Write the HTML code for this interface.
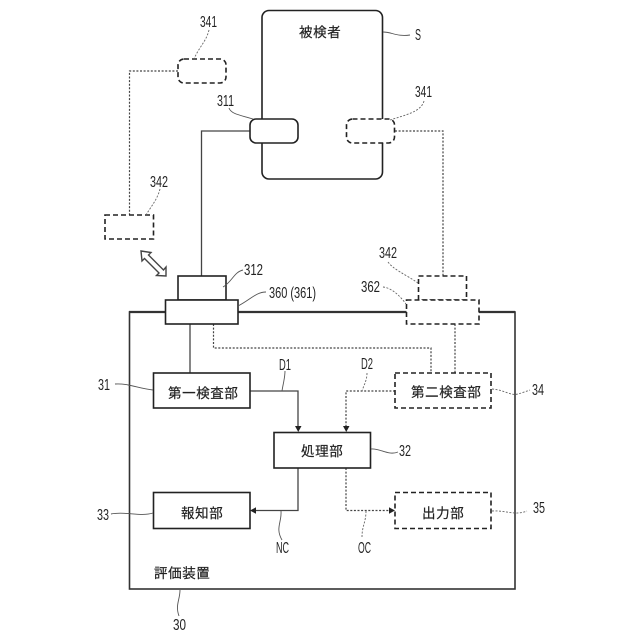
<!DOCTYPE html>
<html><head><meta charset="utf-8">
<style>
html,body{margin:0;padding:0;background:#fff}
svg{display:block}
text{font-family:"Liberation Sans","Noto Sans CJK JP",sans-serif;fill:#222}
.j{font-size:13.5px;font-family:"Noto Sans CJK JP","Liberation Sans",sans-serif;letter-spacing:.6px;stroke:#222;stroke-width:.2}
.n{font-size:15.5px}
.b{fill:#fff;stroke:#222;stroke-width:1.6}
.d{fill:#fff;stroke:#222;stroke-width:1.6;stroke-dasharray:5 3}
.w{fill:none;stroke:#444;stroke-width:1.3}
.o{fill:none;stroke:#444;stroke-width:1.2;stroke-dasharray:2 1.6}
.l{fill:none;stroke:#555;stroke-width:.9}
.q{fill:none;stroke:#666;stroke-width:.9;stroke-dasharray:2 1.5}
</style></head>
<body>
<svg width="640" height="640" viewBox="0 0 640 640" xmlns="http://www.w3.org/2000/svg">
<rect width="640" height="640" fill="#fff"/>

<!-- subject -->
<rect x="262" y="10.5" width="120.5" height="168.5" rx="7" fill="#fff" stroke="#222" stroke-width="1.6"/>

<!-- main box -->
<rect x="129.5" y="312" width="385.5" height="277" fill="#fff" stroke="#333" stroke-width="1.6"/>
<line x1="129" y1="312" x2="515" y2="312" stroke="#333" stroke-width="2.2"/>

<!-- connectors -->
<path class="w" d="M250 131H201.500V276"/>
<path class="o" d="M178 71H129.500V215"/>
<path class="o" d="M395 131H443V276"/>
<path class="w" d="M190 324V373"/>
<path class="o" d="M213.500 324V348H431V373"/>
<path class="o" d="M455 324V373"/>
<path class="w" d="M250 391H298V426"/>
<path d="M295 426h6.500l-3.250 6z" fill="#222"/>
<path class="o" d="M395 391H346V426"/>
<path d="M343 426h6.500l-3.250 6z" fill="#222"/>
<path class="w" d="M298 468V510.500H256"/>
<path d="M256 507.300v6.500l-6-3.250z" fill="#222"/>
<path class="o" d="M346 468V510.500H389"/>
<path d="M389 507.300v6.500l6-3.250z" fill="#222"/>

<!-- shapes -->
<rect class="b" x="250" y="119" width="48" height="24" rx="6"/>
<rect class="d" x="346.500" y="119" width="48" height="24" rx="6"/>
<rect class="d" x="178" y="59" width="48" height="24" rx="6"/>
<rect class="d" x="105" y="215" width="48.500" height="24"/>
<rect class="b" x="178" y="276" width="48" height="24"/>
<rect class="b" x="165.500" y="300" width="72.500" height="24"/>
<rect class="d" x="418.500" y="276" width="48" height="24"/>
<rect class="d" x="406.500" y="300" width="72.500" height="24"/>
<rect class="b" x="153.500" y="373" width="96.500" height="35"/>
<rect class="d" x="395" y="373" width="96" height="35"/>
<rect class="b" x="274" y="432.500" width="96.500" height="35.500"/>
<rect class="b" x="153.500" y="492.500" width="96.500" height="36"/>
<rect class="d" x="395" y="492.500" width="96" height="36"/>

<!-- double arrow -->
<polygon points="141,251 151,252.500 148.500,255 163.500,270 166,267 166,276 156.500,275.500 159,273 144.500,258.500 142,261" fill="#fff" stroke="#444" stroke-width="1.4"/>

<!-- leaders -->
<path class="q" d="M209 30C206 42 199 47 194 59"/>
<path class="l" d="M229 108C231 114 240 115 253 119"/>
<path class="l" d="M383 32C392 32 397 37 410 35"/>
<path class="q" d="M424 101C421 112 405 115 390 120"/>
<path class="q" d="M160 189C157 200 152 205 146 215"/>
<path class="l" d="M243 270C234 272 232 282 223 287"/>
<path class="l" d="M266 292C256 292 250 300 238 306"/>
<path class="q" d="M388 262C394 270 405 274 418 283"/>
<path class="q" d="M383 287C392 288 400 296 406 304"/>
<path class="l" d="M115 384C128 383 140 389 153 390"/>
<path class="l" d="M285 371C285 378 283 384 282 391"/>
<path class="q" d="M367 373C367 380 364 385 362 391"/>
<path class="q" d="M492 389C505 390 510 396 518 394C522 393 527 391 530 390"/>
<path class="l" d="M371 449C380 448 388 456 398 452"/>
<path class="l" d="M111 514C125 511 140 517 153 513"/>
<path class="l" d="M281 511C282 522 275 528 282 540"/>
<path class="q" d="M366 511C366 522 362 526 362 537"/>
<path class="q" d="M492 511C505 510 515 516 527 511"/>
<path class="l" d="M180 590C180 600 175 605 179 616"/>

<!-- Japanese labels -->
<text class="j" x="299" y="37">被検者</text>
<text class="j" x="168" y="398">第一検査部</text>
<text class="j" x="411" y="397">第二検査部</text>
<text class="j" x="301" y="456">処理部</text>
<text class="j" x="181" y="518">報知部</text>
<text class="j" x="422" y="518">出力部</text>
<text class="j" x="154" y="578">評価装置</text>

<!-- numeric labels -->
<text class="n" x="200" y="27" textLength="17" lengthAdjust="spacingAndGlyphs">341</text>
<text class="n" x="217" y="106" textLength="17" lengthAdjust="spacingAndGlyphs">311</text>
<text class="n" x="415" y="40" textLength="6" lengthAdjust="spacingAndGlyphs">S</text>
<text class="n" x="415" y="97" textLength="17" lengthAdjust="spacingAndGlyphs">341</text>
<text class="n" x="150" y="187" textLength="18" lengthAdjust="spacingAndGlyphs">342</text>
<text class="n" x="244" y="275" textLength="19" lengthAdjust="spacingAndGlyphs">312</text>
<text class="n" x="269" y="298" textLength="47" lengthAdjust="spacingAndGlyphs">360 (361)</text>
<text class="n" x="379" y="258" textLength="18" lengthAdjust="spacingAndGlyphs">342</text>
<text class="n" x="361" y="292" textLength="19" lengthAdjust="spacingAndGlyphs">362</text>
<text class="n" x="98" y="390" textLength="12" lengthAdjust="spacingAndGlyphs">31</text>
<text class="n" x="279" y="370" textLength="12" lengthAdjust="spacingAndGlyphs">D1</text>
<text class="n" x="361" y="369" textLength="12" lengthAdjust="spacingAndGlyphs">D2</text>
<text class="n" x="532" y="395" textLength="12" lengthAdjust="spacingAndGlyphs">34</text>
<text class="n" x="399" y="456" textLength="12" lengthAdjust="spacingAndGlyphs">32</text>
<text class="n" x="97" y="520" textLength="12" lengthAdjust="spacingAndGlyphs">33</text>
<text class="n" x="276" y="553" textLength="13" lengthAdjust="spacingAndGlyphs">NC</text>
<text class="n" x="358" y="553" textLength="13" lengthAdjust="spacingAndGlyphs">OC</text>
<text class="n" x="533" y="513" textLength="12" lengthAdjust="spacingAndGlyphs">35</text>
<text class="n" x="173" y="630" textLength="13" lengthAdjust="spacingAndGlyphs">30</text>
</svg>
</body></html>
